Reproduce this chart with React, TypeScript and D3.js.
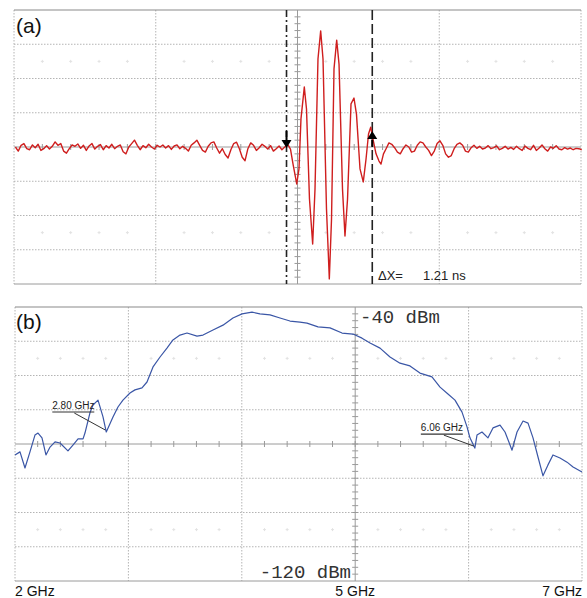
import React from 'react';
import * as d3 from 'd3';

// ---------- Panel (a): oscilloscope trace (time in ns, amplitude in divisions) ----------
const leftNoiseStart = -3.98;
const noiseStep = 0.04;
const leftNoise = [
  0.0, -0.12, 0.05, 0.1, -0.05, -0.08, 0.06, -0.02, 0.08, -0.1,
  -0.05, 0.04, -0.06, 0.02, 0.15, 0.05, 0.1, -0.12, -0.18, -0.05,
  0.06, 0.02, 0.09, -0.04, 0.05, -0.1, 0.03, 0.1, -0.06, 0.02,
  0.07, -0.08, 0.04, -0.03, 0.08, -0.05, 0.02, 0.06, -0.14, -0.2,
  0.0, 0.1, 0.2, 0.05, -0.08, 0.04, -0.02, 0.08, 0.0, -0.06,
  0.05, 0.0, 0.06, -0.03, 0.04, -0.07, 0.03, 0.06, -0.05, 0.02,
  -0.04, -0.12, 0.05, 0.12, 0.2, 0.05, -0.1, -0.15, 0.02, 0.12,
  0.15, -0.03, -0.18, -0.05, -0.22, -0.32, -0.08, 0.1, 0.14, -0.05,
  -0.3, -0.4, -0.05, 0.12, 0.05, -0.1, -0.02, 0.08, 0.02, -0.06,
  0.04, -0.12, -0.05, 0.03, -0.08, 0.0,
];
const burstTime = [
  -0.134, -0.099, -0.063, -0.011, 0.021, 0.049, 0.096, 0.127, 0.169, 0.214,
  0.247, 0.289, 0.327, 0.36, 0.409, 0.449, 0.48, 0.515, 0.553, 0.586,
  0.635, 0.67, 0.706, 0.755, 0.797, 0.832, 0.882, 0.928, 0.967, 1.002,
  1.033, 1.065, 1.108, 1.15, 1.178, 1.213,
];
const burstValue = [
  0.06, -0.06, -0.5, -1.08, -0.64, 0.82, 1.75, 1.11, -1.52, -2.83,
  -1.23, 2.57, 3.39, 2.57, -1.81, -3.85, -2.1, 2.28, 3.12, 2.42,
  -1.23, -2.6, -1.52, 1.26, 1.43, 0.96, -0.64, -1.02, -0.35, 0.38,
  0.58, 0.23, -0.2, -0.41, -0.5, -0.2,
];
const rightNoiseStart = 1.25;
const rightNoise = [
  -0.05, 0.12, 0.08, -0.02, -0.15, -0.2, -0.05, 0.06, 0.0, -0.15,
  -0.12, 0.05, 0.15, 0.12, 0.0, -0.1, -0.25, -0.12, 0.1, 0.18,
  0.05, -0.2, -0.3, -0.25, -0.05, 0.08, 0.12, 0.05, -0.12, -0.15,
  -0.02, 0.05, -0.04, 0.02, -0.06, -0.03, 0.04, -0.05, -0.02, 0.03,
  -0.08, -0.04, 0.02, -0.06, -0.01, -0.07, 0.02, -0.05, -0.1, 0.03,
  -0.04, -0.08, 0.05, -0.1, -0.03, 0.06, -0.05, -0.12, 0.0, -0.04,
  0.04, -0.06, -0.08, -0.02, -0.06, -0.03, -0.08, -0.04, -0.05, -0.08,
];
const cursorTimes = [-0.155, 1.055];
const deltaLabel = 'ΔX=';
const deltaValue = '1.21 ns';

// ---------- Panel (b): spectrum (GHz, dBm) ----------
const specFreq = [
  2.0, 2.044, 2.088, 2.132, 2.176, 2.203, 2.238, 2.273, 2.309, 2.353,
  2.397, 2.467, 2.511, 2.556, 2.6, 2.617, 2.661, 2.688, 2.732, 2.776,
  2.805, 2.864, 2.908, 2.952, 3.014, 3.058, 3.12, 3.164, 3.217, 3.279,
  3.34, 3.393, 3.455, 3.517, 3.605, 3.658, 3.746, 3.834, 3.922, 4.002,
  4.09, 4.16, 4.249, 4.337, 4.425, 4.513, 4.575, 4.672, 4.778, 4.884,
  4.981, 5.06, 5.131, 5.219, 5.307, 5.395, 5.483, 5.571, 5.677, 5.748,
  5.818, 5.88, 5.942, 5.986, 6.012, 6.055, 6.074, 6.118, 6.171, 6.215,
  6.277, 6.321, 6.383, 6.427, 6.48, 6.524, 6.568, 6.612, 6.656, 6.7,
  6.744, 6.806, 6.868, 6.921, 7.0,
];
const specDbm = [
  -83.2, -82.3, -87.0, -82.3, -77.4, -76.8, -78.2, -83.2, -80.9, -79.4,
  -79.7, -82.0, -80.3, -78.5, -78.5, -76.8, -70.9, -68.6, -67.2, -72.1,
  -76.5, -72.1, -69.2, -67.2, -65.1, -64.2, -63.6, -61.9, -57.5, -54.6,
  -52.0, -49.6, -48.2, -47.6, -48.5, -48.2, -46.7, -45.3, -43.2, -42.0,
  -41.5, -42.0, -42.3, -43.2, -44.1, -44.4, -44.7, -45.8, -46.1, -47.6,
  -47.9, -49.1, -50.5, -52.0, -54.6, -56.4, -57.2, -59.3, -60.4, -63.4,
  -65.4, -67.2, -70.7, -75.0, -78.2, -81.2, -77.4, -76.5, -78.2, -75.3,
  -74.5, -76.5, -81.8, -76.5, -73.3, -73.9, -78.2, -83.8, -89.3, -86.1,
  -83.2, -84.1, -85.3, -86.7, -88.2,
];
const markerFreqs = [2.805, 6.055];
const markerLabels = ['2.80 GHz', '6.06 GHz'];
const freqTickValues = [2, 5, 7];
const freqTickLabels = ['2 GHz', '5 GHz', '7 GHz'];
const dbmTop = '-40 dBm';
const dbmBottom = '-120 dBm';

const W = 587;
const H = 598;

type GridProps = { x0: number; x1: number; y0: number; y1: number; ncols: number; nrows: number; ccol: number; crow: number };

function Grid({ x0, x1, y0, y1, ncols, nrows, ccol, crow }: GridProps) {
  const cw = (x1 - x0) / ncols;
  const rh = (y1 - y0) / nrows;
  const els: React.ReactNode[] = [];
  const dotted = { stroke: '#b4b4b4', strokeWidth: 1, strokeDasharray: '1.5 1.5' };
  for (let c = 0; c <= ncols; c++) {
    if (c === ccol) continue;
    const x = x0 + c * cw;
    els.push(<line key={'v' + c} x1={x} x2={x} y1={y0} y2={y1} {...dotted} />);
  }
  for (let r = 1; r < nrows; r++) {
    if (r === crow) continue;
    const y = y0 + r * rh;
    els.push(<line key={'h' + r} x1={x0} x2={x1} y1={y} y2={y} {...dotted} />);
  }
  els.push(<line key="top" x1={x0} x2={x1} y1={y0} y2={y0} stroke="#8a8a8a" strokeWidth={1.2} />);
  els.push(<line key="bot" x1={x0} x2={x1} y1={y1} y2={y1} stroke="#9a9a9a" strokeWidth={1} />);
  const cx = x0 + ccol * cw;
  const cy = y0 + crow * rh;
  els.push(<line key="cx" x1={cx} x2={cx} y1={y0} y2={y1} stroke="#9a9a9a" strokeWidth={1} />);
  els.push(<line key="cy" x1={x0} x2={x1} y1={cy} y2={cy} stroke="#9a9a9a" strokeWidth={1} />);
  for (let k = 1; k < nrows * 5; k++) {
    const y = y0 + (k * rh) / 5;
    els.push(<line key={'ty' + k} x1={cx - 3} x2={cx + 3} y1={y} y2={y} stroke="#9a9a9a" strokeWidth={1} />);
  }
  for (let k = 1; k < ncols * 5; k++) {
    const x = x0 + (k * cw) / 5;
    els.push(<line key={'tx' + k} x1={x} x2={x} y1={cy - 3} y2={cy + 3} stroke="#9a9a9a" strokeWidth={1} />);
  }
  [1.5, nrows - 1.5].forEach((rr, ri) => {
    const y = y0 + rr * rh;
    for (let k = 1; k < ncols * 5; k++) {
      if (k % 5 === 0) continue;
      const x = x0 + (k * cw) / 5;
      els.push(<line key={'m' + ri + 'a' + k} x1={x - 1.5} x2={x + 1.5} y1={y} y2={y} stroke="#e2e2e2" strokeWidth={1} />);
      els.push(<line key={'m' + ri + 'b' + k} x1={x} x2={x} y1={y - 1.5} y2={y + 1.5} stroke="#e2e2e2" strokeWidth={1} />);
    }
  });
  return <g>{els}</g>;
}

export default function App() {
  const ax0 = 14, ax1 = 581, ay0 = 10, ay1 = 284;
  const xA = d3.scaleLinear().domain([-4, 4]).range([ax0, ax1]);
  const yA = d3.scaleLinear().domain([-4, 4]).range([ay1, ay0]);
  const tracePts: [number, number][] = [];
  leftNoise.forEach((v, i) => tracePts.push([leftNoiseStart + i * noiseStep, v]));
  burstTime.forEach((t, i) => tracePts.push([t, burstValue[i]]));
  rightNoise.forEach((v, i) => tracePts.push([rightNoiseStart + i * noiseStep, v]));
  const lineA = d3.line<[number, number]>().x((d) => xA(d[0])).y((d) => yA(d[1]));

  const bx0 = 15, bx1 = 582, by0 = 307, by1 = 581;
  const xB = d3.scaleLinear().domain([2, 7]).range([bx0, bx1]);
  const yB = d3.scaleLinear().domain([-120, -40]).range([by1, by0]);
  const specPts: [number, number][] = specFreq.map((f, i) => [f, specDbm[i]]);
  const lineB = d3.line<[number, number]>().x((d) => xB(d[0])).y((d) => yB(d[1]));
  const interp = (f: number) => {
    const i = d3.bisectLeft(specFreq, f);
    if (i <= 0) return specDbm[0];
    if (i >= specFreq.length) return specDbm[specDbm.length - 1];
    const f0 = specFreq[i - 1], f1 = specFreq[i];
    const u = (f - f0) / (f1 - f0);
    return specDbm[i - 1] + u * (specDbm[i] - specDbm[i - 1]);
  };
  const markerOffsets = [
    { tx: -54, ty: -23, lx: -32, ly: -19 },
    { tx: -54, ty: -17, lx: -31, ly: -13 },
  ];

  const c1 = xA(cursorTimes[0]);
  const c2 = xA(cursorTimes[1]);
  const sans = 'Arial, "Liberation Sans", Helvetica, sans-serif';
  const mono = '"Liberation Mono", "Courier New", monospace';

  return (
    <svg width={W} height={H} style={{ position: 'absolute', left: 0, top: 0, display: 'block', background: '#fff' }}>
      <rect x={0} y={0} width={W} height={H} fill="#fff" />
      <Grid x0={ax0} x1={ax1} y0={ay0} y1={ay1} ncols={4} nrows={8} ccol={2} crow={4} />
      <line x1={c1} x2={c1} y1={ay0} y2={ay1} stroke="#222" strokeWidth={1.6} strokeDasharray="7 3 2 3" />
      <line x1={c2} x2={c2} y1={ay0} y2={ay1} stroke="#222" strokeWidth={1.6} strokeDasharray="10 4" />
      <path d={lineA(tracePts) || ''} fill="none" stroke="#cf1e1e" strokeWidth={1.4} strokeLinejoin="round" />
      <line x1={c1} x2={c1} y1={yA(0) - 16} y2={yA(0) - 6} stroke="#000" strokeWidth={2} />
      <path d={`M${c1 - 5},${yA(0) - 7} L${c1 + 5},${yA(0) - 7} L${c1},${yA(0) + 1} Z`} fill="#000" />
      <line x1={c2} x2={c2} y1={yA(0) - 7} y2={yA(0)} stroke="#000" strokeWidth={2} />
      <path d={`M${c2 - 5},${yA(0) - 8} L${c2 + 5},${yA(0) - 8} L${c2},${yA(0) - 16} Z`} fill="#000" />
      <text x={16} y={33} fontFamily={sans} fontSize={21} fill="#111">(a)</text>
      <text x={378} y={280} fontFamily={sans} fontSize={13} fill="#222">{deltaLabel}</text>
      <text x={423} y={280} fontFamily={sans} fontSize={13} fill="#222">{deltaValue}</text>

      <Grid x0={bx0} x1={bx1} y0={by0} y1={by1} ncols={5} nrows={8} ccol={3} crow={4} />
      <path d={lineB(specPts) || ''} fill="none" stroke="#3a56a6" strokeWidth={1.2} strokeLinejoin="round" />
      {markerFreqs.map((f, i) => {
        const mx = xB(f);
        const my = yB(interp(f));
        const o = markerOffsets[i];
        return (
          <g key={'mk' + i}>
            <text x={mx + o.tx} y={my + o.ty} fontFamily={sans} fontSize={10} fill="#222">{markerLabels[i]}</text>
            <line x1={mx + o.tx} x2={mx + o.tx + 42} y1={my + o.ty + 3} y2={my + o.ty + 3} stroke="#333" strokeWidth={1.2} />
            <line x1={mx + o.lx} x2={mx - 1} y1={my + o.ly} y2={my - 2} stroke="#333" strokeWidth={1} />
          </g>
        );
      })}
      <text x={16} y={329} fontFamily={sans} fontSize={21} fill="#111">(b)</text>
      <text x={360} y={323} fontFamily={mono} fontSize={19} fill="#333">{dbmTop}</text>
      <text x={351} y={578} fontFamily={mono} fontSize={19} fill="#333" textAnchor="end">{dbmBottom}</text>
      {freqTickValues.map((f, i) => (
        <text
          key={'f' + i}
          x={xB(f)}
          y={596}
          fontFamily={sans}
          fontSize={14}
          fill="#111"
          textAnchor={i === 0 ? 'start' : i === freqTickValues.length - 1 ? 'end' : 'middle'}
        >
          {freqTickLabels[i]}
        </text>
      ))}
    </svg>
  );
}
